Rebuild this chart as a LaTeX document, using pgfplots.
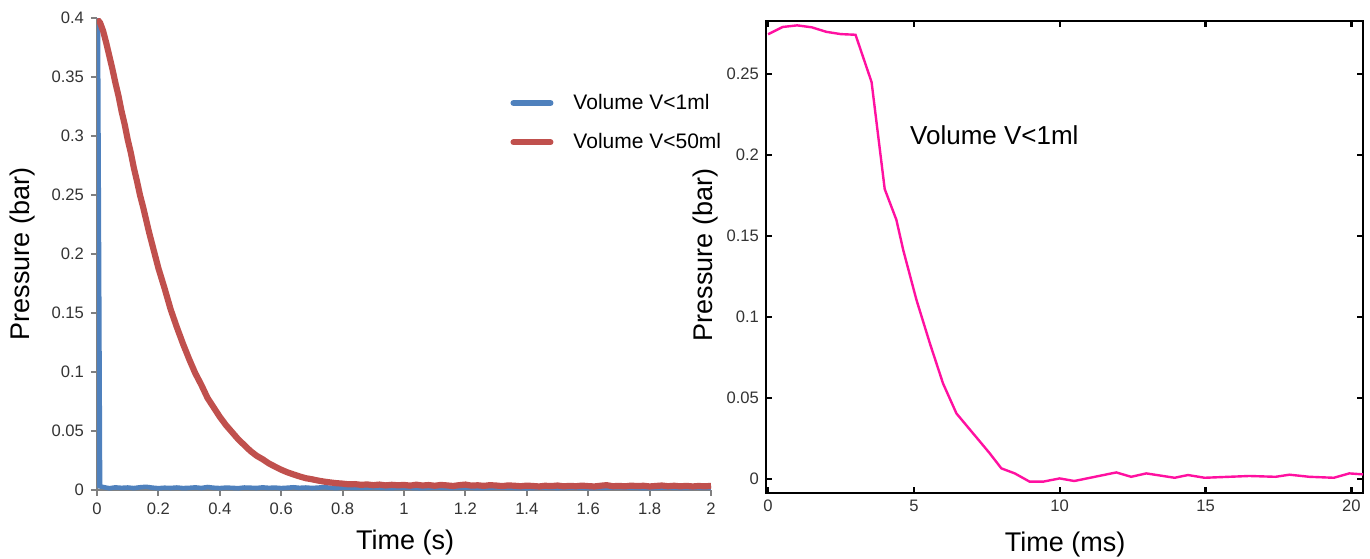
\documentclass[border=0pt]{standalone}
\usepackage{pgfplots}
\pgfplotsset{compat=1.18}
\usepackage{fontspec}
\setmainfont{Liberation Sans}

\definecolor{xlblue}{HTML}{4F81BD}
\definecolor{xlred}{HTML}{C0504D}
\definecolor{mlpink}{HTML}{FF10A0}
\definecolor{axgray}{HTML}{808080}
\definecolor{lblgray}{HTML}{333333}

\newcommand{\ticksize}{\fontsize{8.3}{10}\selectfont}
\newcommand{\labsize}{\fontsize{13.5}{16}\selectfont}

\begin{document}
\begin{tikzpicture}
\useasboundingbox (0,0) rectangle (685pt,279pt);

% left panel: Excel style
\begin{axis}[
    at={(48.5pt,34pt)}, anchor=south west,
    scale only axis, width=307pt, height=236pt,
    xmin=0, xmax=2, ymin=0, ymax=0.4,
    axis x line*=bottom, axis y line*=left,
    axis line style={axgray, line width=1pt, -},
    tick style={axgray, line width=1pt},
    tick align=outside, major tick length=3pt,
    xtick={0,0.2,0.4,0.6,0.8,1,1.2,1.4,1.6,1.8,2},
    ytick={0,0.05,0.1,0.15,0.2,0.25,0.3,0.35,0.4},
    /pgf/number format/fixed,
    /pgf/number format/assume math mode=true,
    ticklabel style={font=\ticksize, text=lblgray},
    xlabel={Time (s)}, ylabel={Pressure (bar)},
    label style={font=\labsize},
    xlabel style={at={(axis description cs:0.502,-0.112)}, anchor=center},
    ylabel style={at={(axis description cs:-0.122,0.5)}, anchor=center},
    legend style={draw=none, fill=none, font=\fontsize{10.5}{12}\selectfont,
      at={(axis description cs:0.663,0.857)}, anchor=north west,
      row sep=6.5pt,
      /tikz/every odd column/.append style={column sep=8pt}},
    legend cell align=left,
    legend image code/.code={\draw[#1, line width=3pt, line cap=round] (0pt,0pt) -- (18.5pt,0pt);},
]
\addplot[xlblue, line width=2.3pt] coordinates {
(0,0.002) (0.003,0.4) (0.01,0.003) (0.02,0.0025) (0.04,0.0015) (0.06,0.0022) (0.08,0.0018)
(0.10,0.0021) (0.12,0.0016) (0.14,0.0023) (0.16,0.0027) (0.18,0.0020) (0.20,0.0015)
(0.22,0.0019) (0.24,0.0017) (0.26,0.0021) (0.28,0.0016) (0.30,0.0018) (0.32,0.0022)
(0.34,0.0017) (0.36,0.0025) (0.38,0.0019) (0.40,0.0016) (0.42,0.0020) (0.44,0.0018)
(0.46,0.0015) (0.48,0.0021) (0.50,0.0019) (0.52,0.0017) (0.54,0.0022) (0.56,0.0018)
(0.58,0.0020) (0.60,0.0016) (0.62,0.0019) (0.64,0.0023) (0.66,0.0018) (0.68,0.0021)
(0.70,0.0017) (0.72,0.0020) (0.74,0.0024) (0.76,0.0019) (0.78,0.0016) (0.80,0.0021)
(0.85,0.0018) (0.90,0.0022) (0.95,0.0016) (1.00,0.0020) (1.05,0.0015) (1.10,0.0021)
(1.15,0.0017) (1.20,0.0019) (1.25,0.0016) (1.30,0.0022) (1.35,0.0018) (1.40,0.0015)
(1.45,0.0020) (1.50,0.0017) (1.55,0.0021) (1.60,0.0016) (1.65,0.0019) (1.70,0.0023)
(1.75,0.0018) (1.80,0.0016) (1.85,0.0021) (1.90,0.0017) (1.95,0.0020) (2.00,0.0018)
};
\addlegendentry{Volume V<1ml}
\addplot[xlred, line width=3.1pt] coordinates {
(0.000,0.399) (0.010,0.396) (0.020,0.389) (0.030,0.379) (0.040,0.368) (0.050,0.357)
(0.060,0.345) (0.070,0.334) (0.080,0.321) (0.090,0.310) (0.100,0.297) (0.110,0.286)
(0.120,0.273) (0.130,0.262) (0.140,0.250) (0.150,0.240) (0.160,0.229) (0.170,0.218)
(0.180,0.208) (0.190,0.198) (0.200,0.188) (0.22,0.171) (0.24,0.153) (0.26,0.138)
(0.28,0.124) (0.30,0.111) (0.32,0.099) (0.34,0.089) (0.36,0.078) (0.38,0.070)
(0.40,0.062) (0.42,0.055) (0.44,0.049) (0.46,0.043) (0.48,0.038) (0.50,0.033)
(0.52,0.029) (0.54,0.026) (0.56,0.0225) (0.58,0.0198) (0.60,0.0172) (0.62,0.0150)
(0.64,0.0132) (0.66,0.0115) (0.68,0.0100) (0.70,0.0091) (0.72,0.0080) (0.74,0.0071)
(0.76,0.0064) (0.78,0.0058) (0.80,0.0054) (0.82,0.0048) (0.84,0.0050) (0.86,0.0044)
(0.88,0.0047) (0.90,0.0041) (0.92,0.0046) (0.94,0.0039) (0.96,0.0044) (0.98,0.0040)
(1.00,0.0043) (1.02,0.0037) (1.04,0.0045) (1.06,0.0038) (1.08,0.0042) (1.10,0.0036)
(1.12,0.0043) (1.14,0.0039) (1.16,0.0034) (1.18,0.0041) (1.20,0.0046) (1.22,0.0037)
(1.24,0.0040) (1.26,0.0035) (1.28,0.0041) (1.30,0.0038) (1.32,0.0033) (1.34,0.0039)
(1.36,0.0036) (1.38,0.0032) (1.40,0.0037) (1.42,0.0034) (1.44,0.0030) (1.46,0.0036)
(1.48,0.0033) (1.50,0.0038) (1.52,0.0031) (1.54,0.0035) (1.56,0.0032) (1.58,0.0037)
(1.60,0.0033) (1.62,0.0030) (1.64,0.0036) (1.66,0.0041) (1.68,0.0032) (1.70,0.0035)
(1.72,0.0031) (1.74,0.0037) (1.76,0.0033) (1.78,0.0036) (1.80,0.0030) (1.82,0.0034)
(1.84,0.0038) (1.86,0.0032) (1.88,0.0036) (1.90,0.0031) (1.92,0.0035) (1.94,0.0030)
(1.96,0.0034) (1.98,0.0031) (2.00,0.0035)
};
\addlegendentry{Volume V<50ml}
\end{axis}

% right panel: MATLAB style
\begin{axis}[
    at={(383pt,32.5pt)}, anchor=south west,
    scale only axis, width=298.5pt, height=236pt,
    xmin=-0.07, xmax=20.4, ymin=-0.0086, ymax=0.2827,
    axis line style={black, line width=1.2pt},
    tick style={black, line width=1.2pt},
    tick align=inside, major tick length=3pt,
    xtick={0,5,10,15,20},
    ytick={0,0.05,0.1,0.15,0.2,0.25},
    /pgf/number format/fixed,
    /pgf/number format/assume math mode=true,
    ticklabel style={font=\ticksize, text=lblgray},
    xlabel={Time (ms)}, ylabel={Pressure (bar)},
    label style={font=\labsize},
    xlabel style={at={(axis description cs:0.501,-0.110)}, anchor=center},
    ylabel style={at={(axis description cs:-0.102,0.504)}, anchor=center},
]
\addplot[mlpink, line width=1.2pt] coordinates {
(0,0.2745) (0.5,0.2790) (1.0,0.2800) (1.5,0.2788) (2.0,0.2760) (2.5,0.2746)
(3.0,0.2742) (3.55,0.2450) (4.0,0.1790) (4.4,0.1600) (4.64,0.1410) (5.09,0.1105)
(5.55,0.0837) (6.0,0.0590) (6.46,0.0405) (7.03,0.0282) (7.6,0.0159) (8.0,0.0066)
(8.46,0.0035) (8.97,-0.0016) (9.43,-0.0016) (10.0,0.0004) (10.5,-0.0012)
(11.94,0.0041) (12.45,0.0014) (12.97,0.0035) (13.94,0.0008) (14.4,0.0025)
(14.97,0.0008) (16.5,0.0019) (17.4,0.0014) (17.88,0.0027) (18.56,0.0014)
(19.4,0.0008) (19.93,0.0035) (20.4,0.0029)
};
\node[anchor=west, font=\fontsize{13}{15}\selectfont, inner sep=0pt] at (axis cs:4.86,0.2123) {Volume V<1ml};
\end{axis}
\end{tikzpicture}
\end{document}
